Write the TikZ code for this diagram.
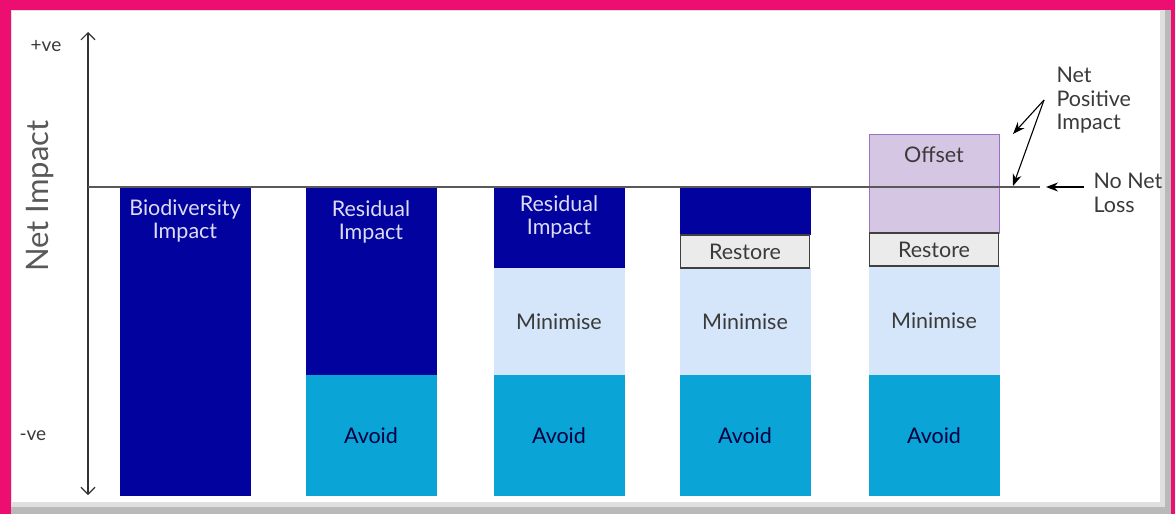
\documentclass[tikz,border=0pt]{standalone}
\usepackage{fontspec}
\setmainfont{Lato}
\usetikzlibrary{arrows.meta}

\definecolor{framepink}{HTML}{EC0F71}
\definecolor{deepblue}{HTML}{02029E}
\definecolor{avoidblue}{HTML}{0AA4D6}
\definecolor{minblue}{HTML}{D5E5FA}
\definecolor{restoregray}{HTML}{EBEBEB}
\definecolor{offsetlilac}{HTML}{D5C6E3}
\definecolor{offsetedge}{HTML}{9B72C2}
\definecolor{labelgray}{HTML}{3A3A3A}
\definecolor{paletext}{HTML}{DCDCF5}

\tikzset{
  seg/.style={minimum width=131pt, inner sep=0pt, outer sep=0pt, anchor=north,
    font=\fontsize{21.5}{23.5}\selectfont, text=labelgray},
  impactseg/.style={seg, fill=deepblue},
  avoidseg/.style={seg, fill=avoidblue, text=black!75!blue},
  minseg/.style={seg, fill=minblue},
  restoreseg/.style={seg, fill=restoregray, draw=black!75, line width=1.5pt, minimum width=129pt},
  offsetseg/.style={seg, fill=offsetlilac, draw=offsetedge, line width=1pt, minimum width=130pt},
  paletag/.style={font=\fontsize{21.5}{23.5}\selectfont, text=paletext, align=center},
  sidetag/.style={font=\fontsize{21.5}{23.5}\selectfont, text=labelgray, align=left, anchor=north west},
  ptr/.style={line width=1.1pt, -{Stealth[length=12pt,width=9pt]}}
}

\begin{document}
\begin{tikzpicture}[x=1pt,y=-1pt]
  \useasboundingbox (0,0) rectangle (1175,514);
  % frame
  \fill[framepink] (0,0) rectangle (1175,514);
  \fill[gray!55] (11,10) rectangle (1171,514);
  \fill[gray!25] (11,10) rectangle (1165,507);
  \fill[white] (12,11) rectangle (1160,502);

  % bars: impact part first
  \node[impactseg, minimum height=309pt] (bio) at (185,187) {};
  \node[impactseg, minimum height=188pt] (res2) at (371,187) {};
  \node[impactseg, minimum height=81pt] (res3) at (559,187) {};
  \node[impactseg, minimum height=48pt] (res4) at (745,187) {};
  \node[offsetseg, minimum height=99pt] (off) at (934,134) {};

  \node[paletag] (biotext) at (185,221) {Biodiversity\\Impact};
  \node[paletag] (res2text) at (371,222) {Residual\\Impact};
  \node[paletag] (res3text) at (559,217) {Residual\\Impact};
  \node[font=\fontsize{21.5}{23.5}\selectfont, text=labelgray] (offtext) at (934,155) {Offset};

  % avoid and minimise
  \foreach \x/\n in {371/2,559/3,745/4,934/5}
    \node[avoidseg, minimum height=121pt] (avoid\n) at (\x,375) {Avoid};
  \foreach \x/\n in {559/3,745/4}
    \node[minseg, minimum height=107pt] (min\n) at (\x,268) {Minimise};
  \node[minseg, minimum height=109pt] (min5) at (934,266) {Minimise};

  % restore
  \node[restoreseg, minimum height=33pt] (rest4) at (745,235) {Restore};
  \node[restoreseg, minimum height=33pt] (rest5) at (934,233) {Restore};

  % axis
  \coordinate (ytop) at (88,32);
  \coordinate (ybot) at (88,495);
  \coordinate (zero) at (88,187);
  \coordinate (zeroend) at (1040,187);
  \draw[line width=1.1pt, black!80, {Straight Barb[length=7pt,width=14pt]}-{Straight Barb[length=7pt,width=14pt]}] (ytop) -- (ybot);
  \draw[line width=1.2pt, black!65] (zero) -- (zeroend);

  \node[font=\fontsize{19}{22}\selectfont, text=labelgray] (pos) at (46,46) {+ve};
  \node[font=\fontsize{19}{22}\selectfont, text=labelgray, anchor=west] (neg) at (16,436) {-ve};
  \node[font=\fontsize{31}{34}\selectfont, text=black!65, rotate=90] (axlabel) at (40,196) {Net Impact};

  % side notes
  \node[sidetag] (npi) at (1053,64) {Net\\Positive\\Impact};
  \node[sidetag] (nnl) at (1090,170) {No Net\\Loss};
  \coordinate (npifoot) at (1044,100);
  \coordinate (offtip) at (1013,134);
  \coordinate (linetip) at (1013,186);
  \coordinate (nnlfoot) at (1084,187);
  \coordinate (nnltip) at (1046,187);
  \draw[ptr] (npifoot) -- (offtip);
  \draw[ptr] (npifoot) -- (linetip);
  \draw[ptr] (nnlfoot) -- (nnltip);
\end{tikzpicture}
\end{document}
